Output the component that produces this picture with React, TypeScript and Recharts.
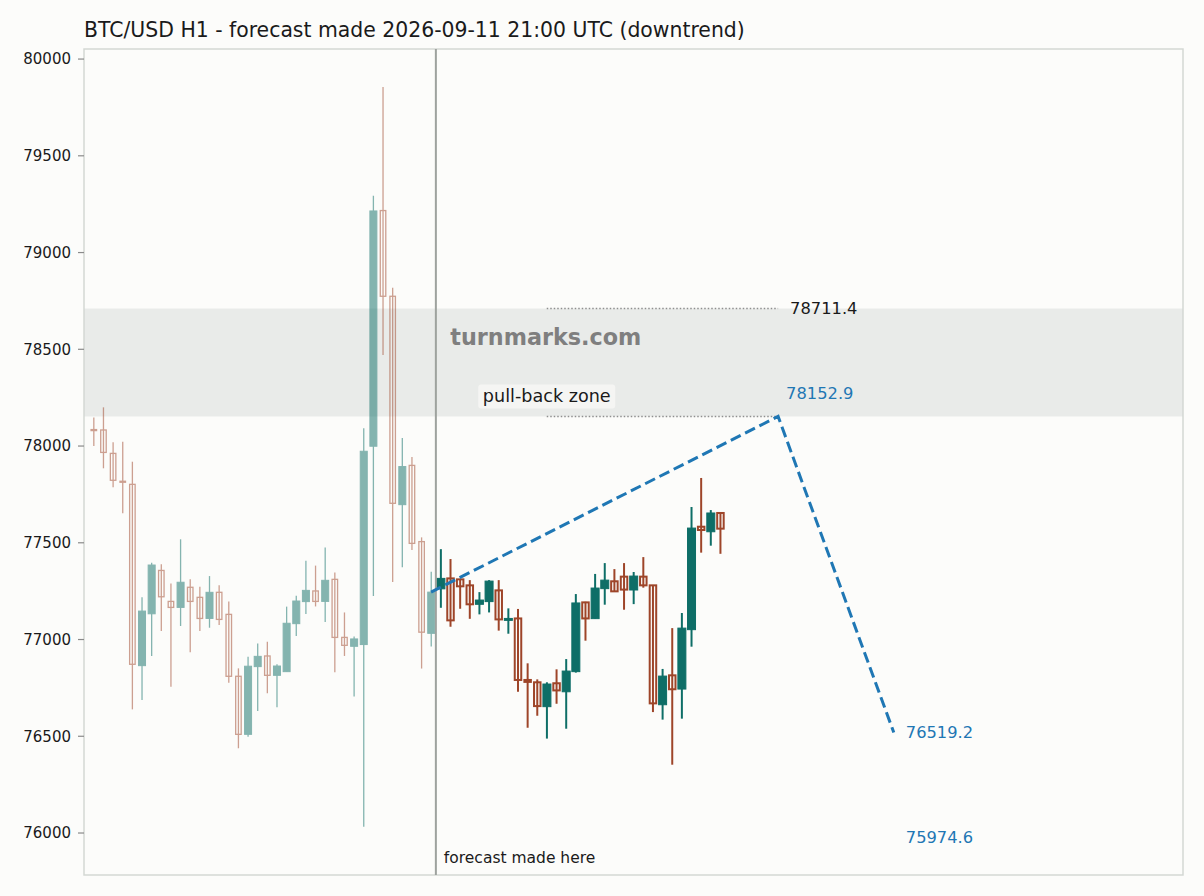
import React from "react";
import {
  ComposedChart,
  Bar,
  Line,
  XAxis,
  YAxis,
  ReferenceArea,
  ReferenceLine,
  ReferenceDot,
} from "recharts";

// hourly candles, index 0..65; 36 and up are the forecast
const opens = [
  78085, 78083, 77962, 77818, 77802, 76865, 77133, 77357, 77197, 77166, 77270, 77218,
  77109, 77244, 77130, 76810, 76510, 76860, 76915, 76815, 76834, 77082, 77196, 77251,
  77197, 77311, 77011, 76965, 76974, 77999, 79217, 78774, 77697, 77900, 77506, 77032,
  77262, 77316, 77311, 77280, 77182, 77196, 77254, 77099, 77109, 76791, 76779, 76653,
  76774, 76730, 76834, 77192, 77108, 77263, 77301, 77325, 77256, 77325, 77280, 76663,
  76815, 76744, 77051, 77583, 77557, 77654,
];
const highs = [
  78148, 78200, 78019, 78022, 77919, 77218, 77397, 77389, 77290, 77518, 77311, 77273,
  77328, 77280, 77196, 76851, 76911, 76980, 76989, 76872, 77170, 77226, 77407, 77382,
  77475, 77347, 77140, 77015, 78092, 79294, 79856, 78818, 78042, 77943, 77528, 77350,
  77467, 77416, 77313, 77307, 77245, 77307, 77307, 77161, 77158, 76877, 76794, 76779,
  76846, 76899, 77235, 77195, 77339, 77395, 77364, 77395, 77349, 77426, 77282, 76848,
  77059, 77137, 77685, 77835, 77669, 77657,
];
const lows = [
  78000, 77885, 77787, 77652, 76639, 76687, 76915, 77044, 76756, 77070, 76934, 77044,
  77061, 77075, 76777, 76438, 76498, 76630, 76722, 76650, 76834, 77018, 77132, 77171,
  77090, 76831, 76915, 76705, 76033, 77225, 78471, 77297, 77374, 77463, 76850, 76964,
  77164, 77066, 77159, 77107, 77130, 77140, 77046, 77030, 76730, 76544, 76606, 76488,
  76668, 76539, 76829, 76994, 77108, 77180, 77249, 77154, 77183, 77268, 76625, 76586,
  76353, 76591, 76963, 77449, 77485, 77443,
];
const closes = [
  78080, 77967, 77823, 77813, 76872, 77147, 77385, 77221, 77166, 77296, 77197, 77109,
  77244, 77104, 76810, 76510, 76862, 76913, 76815, 76863, 77084, 77199, 77254, 77197,
  77306, 77011, 76970, 77003, 77973, 79215, 78774, 77704, 77894, 77497, 77038, 77245,
  77316, 77099, 77275, 77182, 77204, 77302, 77104, 77109, 76791, 76781, 76656, 76770,
  76737, 76837, 77189, 77109, 77266, 77307, 77249, 77258, 77328, 77280, 76670, 76811,
  76743, 77059, 77576, 77566, 77654, 77573,
];
const firstForecast = 36;

// projected path: start, pull-back top, target
const pathIdx = [35, 71, 83];
const pathVals = [77245, 78152.9, 76519.2];

const zoneLow = 78152.9;
const zoneHigh = 78711.4;
const lowTarget = 75974.6;

const yTicks = [76000, 76500, 77000, 77500, 78000, 78500, 79000, 79500, 80000];
const yDomain = [75783, 80052];
const xDomain = [-1, 113];
const xTicks = Array.from({ length: 115 }, (_, k) => k - 1);

const table = Array.from({ length: 84 }, (_, i) => {
  const has = i < opens.length;
  const p = pathIdx.indexOf(i);
  return {
    i,
    range: has ? [lows[i], highs[i]] : null,
    o: has ? opens[i] : null,
    h: has ? highs[i] : null,
    l: has ? lows[i] : null,
    c: has ? closes[i] : null,
    path: p >= 0 ? pathVals[p] : null,
  };
});

const TEAL = "#0e6e67";
const RUST = "#9e4529";
const BLUE = "#1f77b4";
const FONT = "DejaVu Sans, sans-serif";

const Candle = (props: any) => {
  const { x, y, width, height, payload } = props;
  if (!payload || payload.o == null) return <g />;
  const { o, h, l, c, i } = payload;
  const top = Math.min(y, y + height);
  const span = Math.abs(height);
  const yOf = (v: number) => top + ((h - v) / (h - l)) * span;
  const cx = x + width / 2;
  const up = c >= o;
  const fc = i >= firstForecast;
  const color = up ? TEAL : RUST;
  const op = fc ? 1 : 0.5;
  const bw = fc ? 8 : 7;
  const yTop = yOf(Math.max(o, c));
  const yBot = yOf(Math.min(o, c));
  const bh = Math.max(yBot - yTop, 1);
  return (
    <g opacity={op}>
      <line x1={cx} x2={cx} y1={top} y2={top + span} stroke={color} strokeWidth={fc ? 2 : 1.3} />
      {up ? (
        <rect x={cx - bw / 2} y={yTop} width={bw} height={bh} fill={color} stroke={color} strokeWidth={1} />
      ) : (
        <rect x={cx - bw / 2 + 0.75} y={yTop} width={bw - 1.5} height={bh} fill="none" stroke={color} strokeWidth={fc ? 2 : 1.3} />
      )}
    </g>
  );
};

const textAt =
  (text: string, dx: number, dy: number, fill: string, size: number, extra: any = {}) =>
  (p: any) => {
    const vb = p.viewBox || {};
    return (
      <text
        x={vb.x + dx}
        y={vb.y + dy}
        fill={fill}
        fontSize={size}
        fontFamily={FONT}
        dominantBaseline="central"
        {...extra}
      >
        {text}
      </text>
    );
  };

const pullBackLabel = (p: any) => {
  const vb = p.viewBox || {};
  const cx = vb.x;
  const cy = vb.y - 20;
  return (
    <g>
      <rect x={cx - 68.5} y={cy - 12} width={137} height={24} rx={3} fill="#f5f5f3" />
      <text x={cx} y={cy} textAnchor="middle" dominantBaseline="central" fontSize={17.6} fontFamily={FONT} fill="#1a1a1a">
        pull-back zone
      </text>
    </g>
  );
};

const forecastLabel = (p: any) => {
  const vb = p.viewBox || {};
  return (
    <text x={vb.x + 8} y={vb.y + vb.height - 17} fontSize={15.5} fontFamily={FONT} fill="#1a1a1a" dominantBaseline="central">
      forecast made here
    </text>
  );
};

export default function App() {
  return (
    <div
      style={{
        position: "absolute",
        left: 0,
        top: 0,
        width: 1204,
        height: 896,
        background: "#fcfcfa",
        fontFamily: FONT,
      }}
    >
      <div
        style={{
          position: "absolute",
          left: 84,
          top: 20,
          fontSize: 20.4,
          lineHeight: "20px",
          color: "#1a1a1a",
          whiteSpace: "nowrap",
        }}
      >
        BTC/USD H1 - forecast made 2026-09-11 21:00 UTC (downtrend)
      </div>
      <ComposedChart
        width={1204}
        height={896}
        data={table}
        margin={{ top: 49, right: 21, bottom: 21, left: 0 }}
        style={{ position: "absolute", left: 0, top: 0 }}
      >
        <XAxis type="number" dataKey="i" domain={xDomain} ticks={xTicks} hide allowDataOverflow />
        <YAxis
          type="number"
          domain={yDomain}
          ticks={yTicks}
          width={84}
          allowDataOverflow
          axisLine={false}
          tickSize={6}
          tickMargin={7}
          tickLine={{ stroke: "#8a8a8a", strokeWidth: 1.2 }}
          tick={{ fill: "#1a1a1a", fontSize: 15, fontFamily: FONT }}
        />
        <ReferenceArea x1={xDomain[0]} x2={xDomain[1]} y1={zoneLow} y2={zoneHigh} fill="#e9ebe9" fillOpacity={1} stroke="none" />
        <ReferenceLine
          segment={[{ x: 47, y: zoneHigh }, { x: 71, y: zoneHigh }]}
          stroke="#8f8f8f"
          strokeWidth={1.5}
          strokeDasharray="1.5 2"
        />
        <ReferenceLine
          segment={[{ x: 47, y: zoneLow }, { x: 71, y: zoneLow }]}
          stroke="#8f8f8f"
          strokeWidth={1.5}
          strokeDasharray="1.5 2"
        />
        <ReferenceDot x={37} y={78563} r={0} fill="none" stroke="none" label={{ content: textAt("turnmarks.com", 0, 0, "#7f7f7f", 22.3, { fontWeight: "bold" }) }} />
        <ReferenceDot x={47} y={zoneLow} r={0} fill="none" stroke="none" label={{ content: pullBackLabel }} />
        <ReferenceLine x={35.5} stroke="#9ea29e" strokeWidth={2} label={{ content: forecastLabel }} />
        <Bar dataKey="range" barSize={8} shape={<Candle />} isAnimationActive={false} />
        <Line
          dataKey="path"
          type="linear"
          connectNulls
          dot={false}
          stroke={BLUE}
          strokeWidth={3}
          strokeDasharray="11 5"
          isAnimationActive={false}
        />
        <ReferenceDot x={71} y={zoneHigh} r={0} fill="none" stroke="none" label={{ content: textAt(zoneHigh.toFixed(1), 12, 0, "#1a1a1a", 16.3) }} />
        <ReferenceDot x={71} y={zoneLow} r={0} fill="none" stroke="none" label={{ content: textAt(zoneLow.toFixed(1), 8, -23, BLUE, 16.3) }} />
        <ReferenceDot x={83} y={pathVals[2]} r={0} fill="none" stroke="none" label={{ content: textAt(pathVals[2].toFixed(1), 12, 0, BLUE, 16.3) }} />
        <ReferenceDot x={83} y={lowTarget} r={0} fill="none" stroke="none" label={{ content: textAt(lowTarget.toFixed(1), 12, 0, BLUE, 16.3) }} />
        <ReferenceArea
          x1={xDomain[0]}
          x2={xDomain[1]}
          y1={yDomain[0]}
          y2={yDomain[1]}
          fill="none"
          stroke="#d4d8d4"
          strokeWidth={1.5}
        />
      </ComposedChart>
    </div>
  );
}
